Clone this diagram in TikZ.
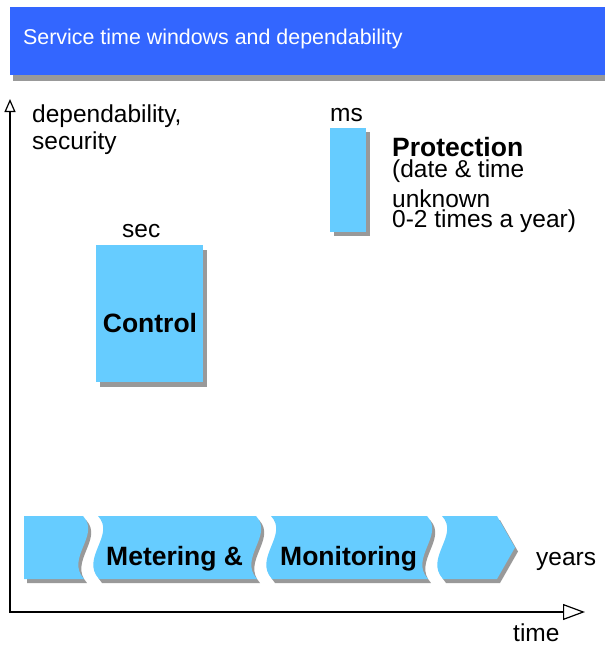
\documentclass[tikz,border=0pt]{standalone}
\usepackage{fontspec}
\setmainfont{Liberation Sans}
\usetikzlibrary{arrows.meta}
\definecolor{titleblue}{HTML}{3366FF}
\definecolor{boxblue}{HTML}{66CCFF}
\definecolor{shadowgray}{HTML}{999999}
\begin{document}
\begin{tikzpicture}[x=1pt,y=-1pt,
  lbl/.style={font=\fontsize{24.5}{28}\selectfont, inner sep=0pt, anchor=base west},
  boldlbl/.style={font=\fontsize{26.5}{30}\selectfont\bfseries, inner sep=0pt, anchor=base west},
  titlelbl/.style={font=\fontsize{21.4}{26}\selectfont, text=white, inner sep=0pt, anchor=base west},
  axis/.style={line width=1.5pt, black}]
\useasboundingbox (0,0) rectangle (605,646);
% title bar
\fill[shadowgray] (13,75) rectangle (605,81);
\fill[titleblue] (10,7) rectangle (605,75);
\node[titlelbl] (title) at (23,44) {Service time windows and dependability};
% axes
\coordinate (origin) at (10,612);
\coordinate (ytop) at (10,99);
\coordinate (xend) at (585,612);
\draw[axis, -{Triangle[open, length=13pt, width=11pt, line width=1.2pt]}] (origin) -- (ytop);
\draw[axis, -{Triangle[open, length=22pt, width=16pt, line width=1.2pt]}] ([xshift=-0.75pt]origin) -- (xend);
\node[lbl] (ylabel1) at (32,122) {dependability,};
\node[lbl] (ylabel2) at (32,149) {security};
\node[lbl] (xlabel) at (513,641) {time};
% protection bar
\fill[shadowgray] (334,132) rectangle (370,236);
\fill[boxblue] (330,128) rectangle (366,232);
\node[lbl] (ms) at (330,121) {ms};
\node[boldlbl, text depth=0pt] (prot) at (392,156) {Protection};
\node[lbl, text height=17pt] (prot1) at (392,177) {(date \& time};
\node[lbl, text depth=0pt, text height=17pt] (prot2) at (392,207) {unknown};
\node[lbl, text height=17pt] (prot3) at (392,227) {0-2 times a year)};
% control box
\fill[shadowgray] (100,250) rectangle (207,387);
\fill[boxblue] (96,245) rectangle (203,382);
\node[lbl] (sec) at (122,237) {sec};
\node[boldlbl, anchor=base] (ctrl) at (150,332) {Control};
% bottom banner
\foreach \dx/\dy/\c in {3/4/shadowgray, 0/0/boxblue} {
  \fill[\c, shift={(\dx,\dy)}]
    (24,516) -- (83,516) .. controls (101,535) and (65,558) .. (84,579) -- (24,579) -- cycle
    (98,516) -- (256,516) .. controls (274,535) and (238,558) .. (257,579) -- (99,579) .. controls (80,558) and (116,535) .. (98,516) -- cycle
    (271,516) -- (427,516) .. controls (445,535) and (409,558) .. (428,579) -- (272,579) .. controls (253,558) and (289,535) .. (271,516) -- cycle
    (442,516) -- (497,516) -- (515,547.5) -- (497,579) -- (443,579) .. controls (424,558) and (460,535) .. (442,516) -- cycle;
}
\node[boldlbl] (meter) at (106,565) {Metering \&};
\node[boldlbl] (monit) at (280,565) {Monitoring};
\node[lbl] (years) at (536,565) {years};
\end{tikzpicture}
\end{document}
